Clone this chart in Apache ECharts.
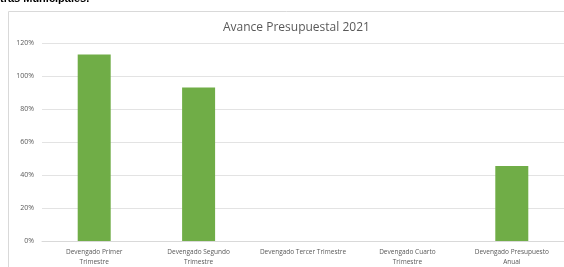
<!DOCTYPE html>
<html>
<head>
<meta charset="utf-8">
<script src="https://cdn.jsdelivr.net/npm/echarts@6/dist/echarts.min.js"></script>
<style>
  html, body { margin: 0; padding: 0; background: #fff; }
  #chart { width: 564px; height: 267px; }
</style>
</head>
<body>
<div id="chart"></div>
<script>
const categories = [
    'Devengado Primer\nTrimestre',
    'Devengado Segundo\nTrimestre',
    'Devengado Tercer Trimestre',
    'Devengado Cuarto\nTrimestre',
    'Devengado Presupuesto\nAnual'
];
const avance = [113, 93, 0, 0, 45.5];
const yTicks = [0, 20, 40, 60, 80, 100, 120];

const labelFont = 'Open Sans, Liberation Sans, sans-serif';

function initChart() {
    const chart = echarts.init(document.getElementById('chart'));
    const option = {
        animation: false,
        graphic: [
            {
                type: 'rect',
                shape: { x: 8.5, y: 11.5, width: 600, height: 300 },
                style: { fill: 'none', stroke: '#d9d9d9', lineWidth: 1 }
            },
            {
                type: 'text',
                left: 0,
                top: -7,
                style: {
                    text: 'tras Municipales.',
                    font: 'bold 11px Liberation Sans, sans-serif',
                    fill: '#000'
                }
            }
        ],
        title: {
            text: 'Avance Presupuestal 2021',
            left: 218,
            top: 17,
            textStyle: {
                fontFamily: labelFont,
                fontSize: 12,
                fontWeight: 'normal',
                color: '#595959'
            }
        },
        grid: { left: 42, right: 0, top: 43, bottom: 25 },
        xAxis: {
            type: 'category',
            data: categories,
            axisLine: { lineStyle: { color: '#d9d9d9' } },
            axisTick: { show: false },
            axisLabel: {
                interval: 0,
                fontFamily: labelFont,
                fontSize: 6.5,
                color: '#595959',
                lineHeight: 10,
                margin: 6
            }
        },
        yAxis: {
            type: 'value',
            min: yTicks[0],
            max: yTicks[yTicks.length - 1],
            interval: 20,
            axisLine: { show: false },
            axisTick: { show: false },
            splitLine: { lineStyle: { color: '#e3e3e3' } },
            axisLabel: {
                formatter: '{value}%',
                fontFamily: labelFont,
                fontSize: 7,
                color: '#595959',
                margin: 8
            }
        },
        series: [{
            type: 'bar',
            data: avance,
            barWidth: 33,
            itemStyle: { color: '#70ad47' }
        }]
    };
    chart.setOption(option);
}

document.addEventListener('DOMContentLoaded', initChart);
</script>
</body>
</html>
